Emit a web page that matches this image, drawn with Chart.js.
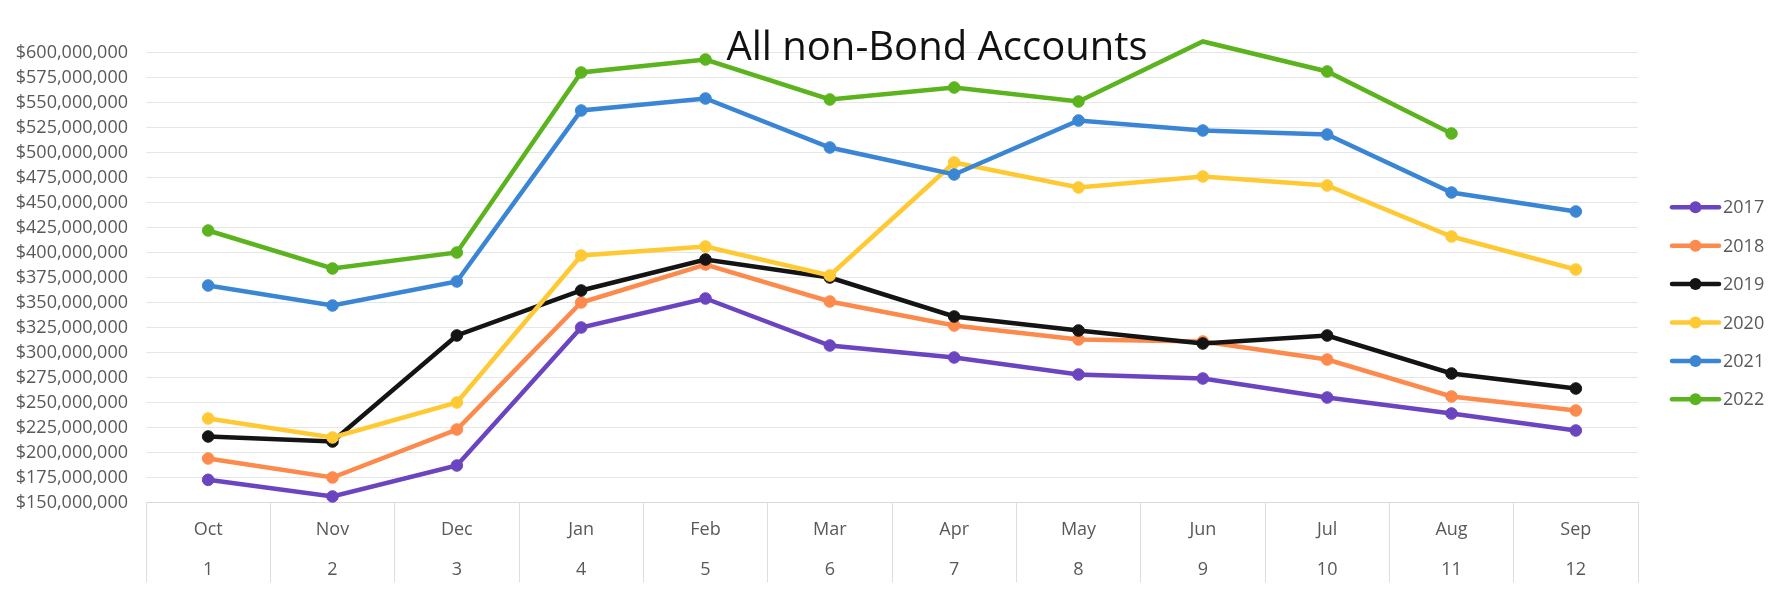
<!DOCTYPE html>
<html>
<head>
<meta charset="utf-8">
<script src="https://cdn.jsdelivr.net/npm/chart.js@4.4.1/dist/chart.umd.min.js"></script>
<style>
html,body{margin:0;padding:0;background:#ffffff;}
#wrap{width:1773px;height:592px;position:relative;}
</style>
</head>
<body>
<div id="wrap"><canvas id="c" width="1773" height="592"></canvas></div>
<script>
// ---- Data (values in millions of dollars) ----
const months = ['Oct','Nov','Dec','Jan','Feb','Mar','Apr','May','Jun','Jul','Aug','Sep'];
const monthNumbers = ['1','2','3','4','5','6','7','8','9','10','11','12'];
const seriesNames = ['2017','2018','2019','2020','2021','2022'];
const s2017 = [172.7, 156, 187, 325, 354, 307, 295, 278, 274, 255, 239, 222];
const s2018 = [194, 175, 223, 350, 388, 351, 327, 313, 311, 293, 256, 242];
const s2019 = [216, 211, 317, 362, 393, 375, 336, 322, 309, 317, 279, 264];
const s2020 = [234, 215, 250, 397, 406, 377, 490, 465, 476, 467, 416, 383];
const s2021 = [367, 347, 371, 542, 554, 505, 478, 532, 522, 518, 460, 441];
const s2022 = [422, 384, 400, 580, 593, 553, 565, 551, 611, 581, 519, null];
const yMin = 150, yMax = 600, yStep = 25;
const titleText = 'All non-Bond Accounts';

const colors = ['#6b44c0', '#fb8a4c', '#141414', '#fec932', '#3b86d4', '#5bb31d'];
const allSeries = [s2017, s2018, s2019, s2020, s2021, s2022];

Chart.defaults.font.family = "'Open Sans', sans-serif";

const labels = months.map((m, i) => [m, monthNumbers[i]]);

const datasets = allSeries.map((vals, i) => ({
  label: seriesNames[i],
  data: vals,
  borderColor: colors[i],
  backgroundColor: colors[i],
  pointBackgroundColor: colors[i],
  pointBorderColor: colors[i],
  borderWidth: 4.5,
  pointRadius: 5.8,
  pointBorderWidth: 1,
  tension: 0,
  spanGaps: false,
  clip: false,
  order: allSeries.length - i
}));

const overlayPlugin = {
  id: 'overlay',
  afterDraw(chart) {
    const ctx = chart.ctx;
    ctx.save();
    // title
    ctx.font = "40px 'Open Sans', sans-serif";
    ctx.fillStyle = '#111111';
    ctx.textAlign = 'center';
    ctx.textBaseline = 'alphabetic';
    ctx.fillText(titleText, 937, 60);
    // legend
    const lx0 = 1672, lx1 = 1719, top = 207.3, gap = 38.4;
    chart.data.datasets.forEach((ds, i) => {
      const y = top + i * gap;
      ctx.strokeStyle = ds.borderColor;
      ctx.lineWidth = 4.5;
      ctx.lineCap = 'round';
      ctx.beginPath();
      ctx.moveTo(lx0, y);
      ctx.lineTo(lx1, y);
      ctx.stroke();
      ctx.fillStyle = ds.borderColor;
      ctx.beginPath();
      ctx.arc((lx0 + lx1) / 2, y, 6, 0, Math.PI * 2);
      ctx.fill();
      ctx.font = "18px 'Open Sans', sans-serif";
      ctx.fillStyle = '#595959';
      ctx.textAlign = 'left';
      ctx.textBaseline = 'middle';
      ctx.fillText(ds.label, 1723, y + 1);
    });
    ctx.restore();
  }
};

new Chart(document.getElementById('c'), {
  type: 'line',
  data: { labels: labels, datasets: datasets },
  plugins: [overlayPlugin],
  options: {
    responsive: false,
    animation: false,
    devicePixelRatio: 1,
    layout: { padding: { left: 16, right: 135, top: 52.5, bottom: 0 } },
    plugins: {
      legend: { display: false },
      title: { display: false },
      tooltip: { enabled: false }
    },
    scales: {
      x: {
        type: 'category',
        offset: true,
        grid: {
          offset: true,
          drawOnChartArea: false,
          drawTicks: true,
          tickLength: 80,
          color: '#dedede',
          lineWidth: 1
        },
        border: { display: true, color: '#d9d9d9', width: 1 },
        ticks: {
          padding: -72.5,
          color: '#595959',
          font: { size: 18, lineHeight: 2.222 },
          maxRotation: 0,
          minRotation: 0,
          autoSkip: false
        },
        afterFit(scale) { scale.height = 89.5; }
      },
      y: {
        min: yMin,
        max: yMax,
        grid: { color: '#e6e6e6', lineWidth: 1, drawTicks: false },
        border: { display: false },
        ticks: {
          stepSize: yStep,
          padding: 18,
          color: '#595959',
          font: { size: 18 },
          callback: (v) => '$' + (v * 1000000).toLocaleString('en-US')
        },
        afterFit(scale) { scale.width = 130; }
      }
    }
  }
});
</script>
</body>
</html>
